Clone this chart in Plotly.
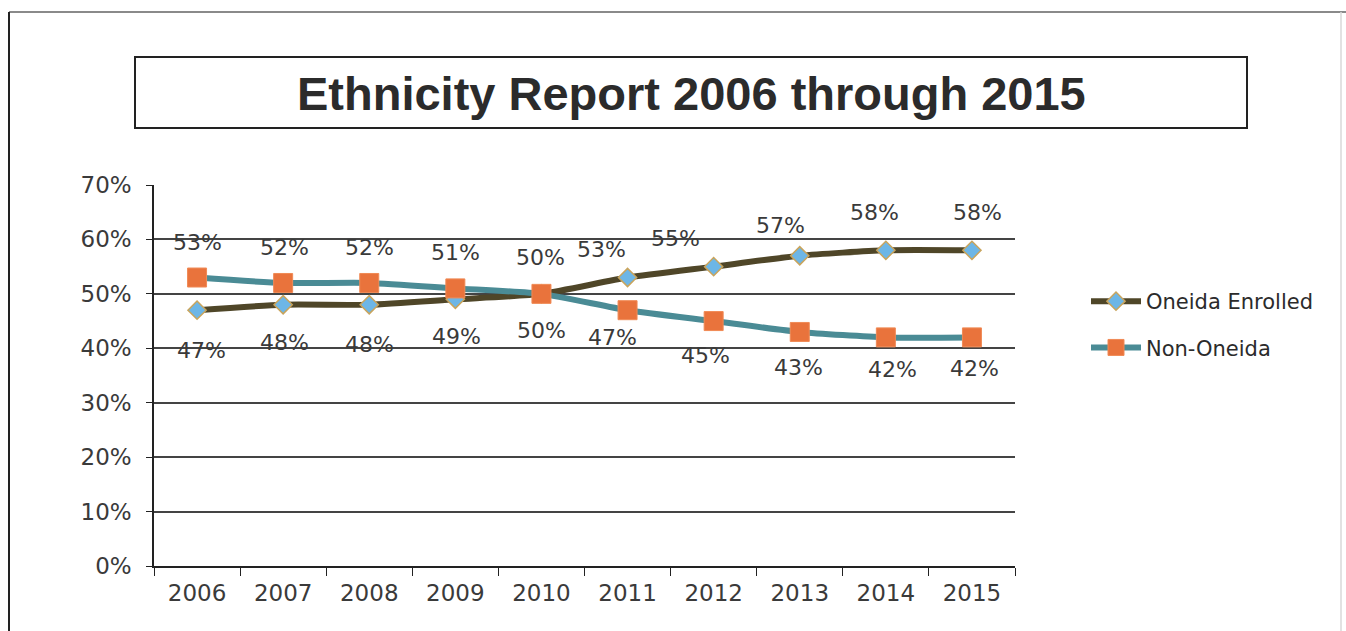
import plotly.graph_objects as go

# ---- data ----
years = ["2006", "2007", "2008", "2009", "2010", "2011", "2012", "2013", "2014", "2015"]
oneida_enrolled = [0.47, 0.48, 0.48, 0.49, 0.50, 0.53, 0.55, 0.57, 0.58, 0.58]
non_oneida = [0.53, 0.52, 0.52, 0.51, 0.50, 0.47, 0.45, 0.43, 0.42, 0.42]
y_ticks = [0, 0.1, 0.2, 0.3, 0.4, 0.5, 0.6, 0.7]

# ---- label placement (style only) ----
oe_xshift = [4, 1, 0, 1, 0, -26, -38, -19, -11, 6]
oe_yshift = [-40, -38, -40, -37, -37, 28, 28, 30, 38, 38]
no_xshift = [0, 1, 0, 0, -1, -15, -8, -1, 7, 3]
no_yshift = [35, 35, 35, 36, 36, -27, -34, -36, -32, -31]

W, H = 1346, 631
L, R, T, B = 154, 1015, 185, 566
FONT = "DejaVu Sans"
TXT = "#3a3a3a"

def px(x):
    return (x - L) / (R - L)

def py(y):
    return (B - y) / (B - T)

fig = go.Figure()
fig.add_trace(go.Scatter(
    x=years, y=oneida_enrolled, name="Oneida Enrolled", mode="lines+markers",
    line=dict(color="#4f4628", width=6, shape="spline", smoothing=0.6),
    marker=dict(symbol="diamond", size=14, color="#6db6e6",
                line=dict(color="#c9a45c", width=1.5)),
    legendgroup="a",
))
fig.add_trace(go.Scatter(
    x=years, y=non_oneida, name="Non-Oneida", mode="lines+markers",
    line=dict(color="#4a8b95", width=6, shape="spline", smoothing=0.6),
    marker=dict(symbol="square", size=19, color="#e9733c",
                line=dict(color="#f08a55", width=1)),
    legendgroup="b",
))

annotations = []
for i, yr in enumerate(years):
    annotations.append(dict(x=i, y=oneida_enrolled[i], xref="x", yref="y",
                            text=f"{oneida_enrolled[i]*100:.0f}%",
                            showarrow=False, xshift=oe_xshift[i], yshift=oe_yshift[i],
                            font=dict(family=FONT, size=22, color=TXT)))
    annotations.append(dict(x=i, y=non_oneida[i], xref="x", yref="y",
                            text=f"{non_oneida[i]*100:.0f}%",
                            showarrow=False, xshift=no_xshift[i], yshift=no_yshift[i],
                            font=dict(family=FONT, size=22, color=TXT)))

# title in a box
annotations.append(dict(xref="paper", yref="paper", x=px(691), y=py(93),
                        text="<b>Ethnicity Report 2006 through 2015</b>", showarrow=False,
                        font=dict(family="Liberation Sans Narrow, Liberation Sans", size=47, color="#2b2b2b"),
                        xanchor="center", yanchor="middle"))

shapes = [
    dict(type="rect", xref="paper", yref="paper", x0=px(135), x1=px(1247), y0=py(57), y1=py(128),
         line=dict(color="#222222", width=2), fillcolor="rgba(0,0,0,0)", layer="below"),
    dict(type="line", xref="paper", yref="paper", x0=px(9), x1=px(1346), y0=py(12), y1=py(12),
         line=dict(color="#8a8a8a", width=2)),
    dict(type="line", xref="paper", yref="paper", x0=px(9), x1=px(9), y0=py(12), y1=py(640),
         line=dict(color="#222222", width=2)),
    dict(type="line", xref="paper", yref="paper", x0=px(1341), x1=px(1341), y0=py(12), y1=py(640),
         line=dict(color="#d8d8d8", width=1.5)),
]

fig.update_layout(
    width=W, height=H,
    margin=dict(l=L, r=W - R, t=T, b=H - B, autoexpand=False),
    paper_bgcolor="white", plot_bgcolor="white",
    font=dict(family=FONT, color=TXT),
    showlegend=True,
    legend=dict(x=px(1086), y=py(281), xanchor="left", yanchor="top",
                font=dict(family=FONT, size=21, color="#2b2b2b"),
                bgcolor="rgba(0,0,0,0)", tracegroupgap=16, itemwidth=50),
    annotations=annotations,
    shapes=shapes,
)
fig.update_xaxes(
    type="category", range=[-0.5, 9.5], tickson="boundaries", ticks="outside", ticklen=8,
    tickcolor="#222222", tickwidth=1.2, showline=True, linecolor="#222222", linewidth=1.5,
    showgrid=False, tickfont=dict(family=FONT, size=23, color=TXT), ticklabelstandoff=6,
)
fig.update_yaxes(
    range=[0, 0.7], tickvals=y_ticks, tickformat=".0%", ticks="outside", ticklen=6,
    tickcolor="#222222", showline=True, linecolor="#222222", linewidth=1.5,
    showgrid=True, gridcolor="#444444", gridwidth=1.6, zeroline=False,
    tickfont=dict(family=FONT, size=23, color=TXT), ticklabelstandoff=10,
)

fig.write_html("out.html")
